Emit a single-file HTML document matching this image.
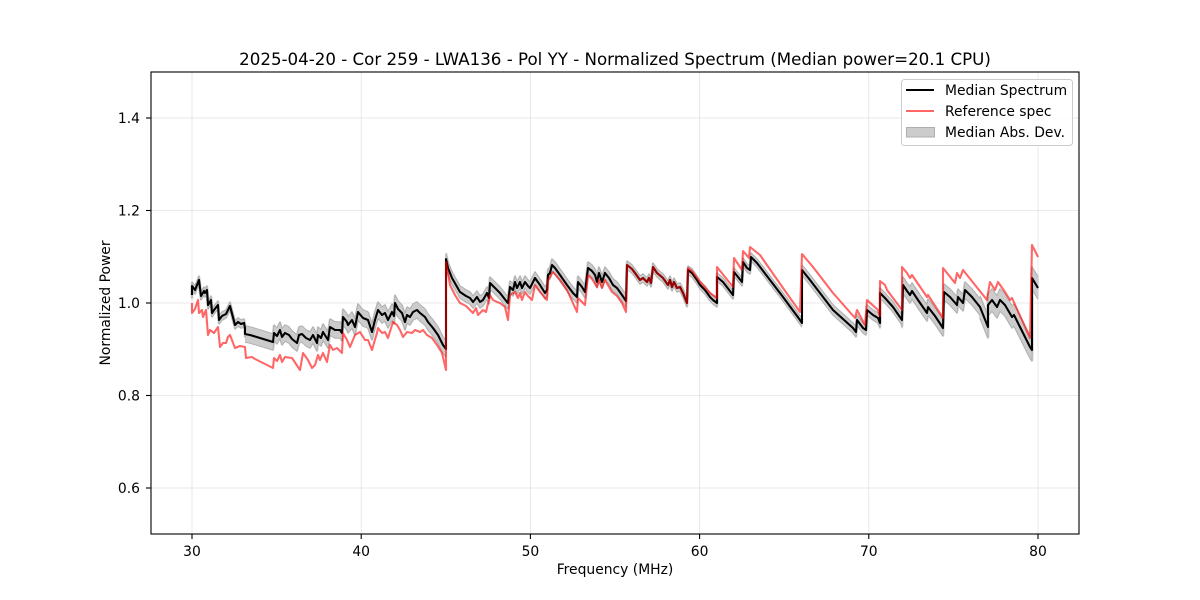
<!DOCTYPE html>
<html><head><meta charset="utf-8"><style>
html,body{margin:0;padding:0;background:#fff;}
svg{display:block;}
text{font-family:"DejaVu Sans","Liberation Sans",sans-serif;fill:#000;}
</style></head><body>
<svg width="1200" height="600" viewBox="0 0 1200 600" xmlns="http://www.w3.org/2000/svg" xmlns:xlink="http://www.w3.org/1999/xlink">
<defs>
<polyline id="g1" points="192,295 192,286 195,290 199,280 201,296 204,291 205,293 207,290 208,305 210,302 211,300 212,313 214,310 218,305 219,320 222,316 226,314 230,306 235,325 238,322 241,324 244,323 245,328 245,334"/>
<polyline id="g2" points="245,334 250,335 260,338 273,342 274,333 277,336 280,330 282,337 285,333 289,335 292,339 297,343 299,335 302,334 306,338 310,340 313,335 317,343 318,335 321,338 323,332 328,340 330,327 335,330 340,330 342,333 343,317 347,322 348,325 352,320 355,327 358,312 363,318 368,320 372,332 375,320 378,310 382,315 385,313 388,320 392,312 394,316 395,303 398,309 402,313 405,322 407,315 410,317 413,312 417,310 420,313 425,317 428,322 433,328 438,335 443,345 446,349"/>
<polyline id="g3" points="446,259 448,268 452,278 456,285 460,292 466,296 470,298 473,302 477,297 480,302 483,300 487,293 489,298 490,283 495,288 500,293 507,302 508,303 510,287 513,290 515,282 517,288 520,282 522,288 525,282 528,286 530,288 535,278 540,285 545,293 547,290 548,275 550,273 552,265 555,268 560,275 567,285 573,293 577,297 578,282 582,287 585,292 588,268 592,271 595,275 597,282 599,273 602,282 605,273 609,278 613,285 617,288 622,295 626,301"/>
<polyline id="g4" points="626,301 627,265 632,269 635,273 640,280 643,278 647,282 649,278 651,283 653,267 657,273 663,278 668,285 670,280 672,287 674,282 677,288 680,287 683,293 687,303 688,270 692,273 697,280 700,285 705,290 710,297 713,300 717,303 717,277 723,282 733,295 734,272 738,277 742,282 743,262 747,268 750,270 751,257 757,263 770,280 783,297 800,320 802,323"/>
<polyline id="g5" points="802,270 810,280 833,310 853,328 856,332 857,320 863,328 866,330 867,310 873,315 878,318 880,323 880,293 885,298 893,307 902,320"/>
<polyline id="g6" points="902,320 903,285 907,291 910,295 912,291 918,300 927,313 928,307 935,316 943,328 944,292 950,297 957,305 958,297 963,303 965,290 972,297 980,307"/>
<polyline id="g7" points="980,307 988,327 988,305 992,300 997,307 1000,300 1005,305 1012,317 1014,315 1020,327 1030,347 1032,350 1032,278 1035,283 1038,288"/>
</defs>
<rect x="0" y="0" width="1200" height="600" fill="#fff"/>
<!-- grid -->
<g stroke="#b0b0b0" stroke-opacity="0.35" stroke-width="0.8">
<line x1="192" y1="72" x2="192" y2="534"/><line x1="361.2" y1="72" x2="361.2" y2="534"/><line x1="530.4" y1="72" x2="530.4" y2="534"/><line x1="699.6" y1="72" x2="699.6" y2="534"/><line x1="868.8" y1="72" x2="868.8" y2="534"/><line x1="1038" y1="72" x2="1038" y2="534"/>
<line x1="151" y1="488" x2="1079" y2="488"/><line x1="151" y1="395.5" x2="1079" y2="395.5"/><line x1="151" y1="303" x2="1079" y2="303"/><line x1="151" y1="210.5" x2="1079" y2="210.5"/><line x1="151" y1="118" x2="1079" y2="118"/>
</g>
<!-- band fill: vertical sweep of median line -->
<g fill="none" stroke="#cccccc" stroke-width="2.6" stroke-linejoin="round">
<use href="#g1" xlink:href="#g1" transform="translate(0,-3)"/><use href="#g1" xlink:href="#g1" transform="translate(0,-1)"/><use href="#g1" xlink:href="#g1" transform="translate(0,1)"/><use href="#g1" xlink:href="#g1" transform="translate(0,3)"/>
<use href="#g2" xlink:href="#g2" transform="translate(0,-7)"/><use href="#g2" xlink:href="#g2" transform="translate(0,-5)"/><use href="#g2" xlink:href="#g2" transform="translate(0,-3)"/><use href="#g2" xlink:href="#g2" transform="translate(0,-1)"/><use href="#g2" xlink:href="#g2" transform="translate(0,1)"/><use href="#g2" xlink:href="#g2" transform="translate(0,3)"/><use href="#g2" xlink:href="#g2" transform="translate(0,5)"/><use href="#g2" xlink:href="#g2" transform="translate(0,7)"/>
<use href="#g3" xlink:href="#g3" transform="translate(0,-5)"/><use href="#g3" xlink:href="#g3" transform="translate(0,-3)"/><use href="#g3" xlink:href="#g3" transform="translate(0,-1)"/><use href="#g3" xlink:href="#g3" transform="translate(0,1)"/><use href="#g3" xlink:href="#g3" transform="translate(0,3)"/><use href="#g3" xlink:href="#g3" transform="translate(0,5)"/>
<use href="#g4" xlink:href="#g4" transform="translate(0,-3)"/><use href="#g4" xlink:href="#g4" transform="translate(0,-1)"/><use href="#g4" xlink:href="#g4" transform="translate(0,1)"/><use href="#g4" xlink:href="#g4" transform="translate(0,3)"/>
<use href="#g5" xlink:href="#g5" transform="translate(0,-4)"/><use href="#g5" xlink:href="#g5" transform="translate(0,-2)"/><use href="#g5" xlink:href="#g5" transform="translate(0,0)"/><use href="#g5" xlink:href="#g5" transform="translate(0,2)"/><use href="#g5" xlink:href="#g5" transform="translate(0,4)"/>
<use href="#g6" xlink:href="#g6" transform="translate(0,-7)"/><use href="#g6" xlink:href="#g6" transform="translate(0,-5)"/><use href="#g6" xlink:href="#g6" transform="translate(0,-3)"/><use href="#g6" xlink:href="#g6" transform="translate(0,-1)"/><use href="#g6" xlink:href="#g6" transform="translate(0,1)"/><use href="#g6" xlink:href="#g6" transform="translate(0,3)"/><use href="#g6" xlink:href="#g6" transform="translate(0,5)"/><use href="#g6" xlink:href="#g6" transform="translate(0,7)"/>
<use href="#g7" xlink:href="#g7" transform="translate(0,-10)"/><use href="#g7" xlink:href="#g7" transform="translate(0,-8)"/><use href="#g7" xlink:href="#g7" transform="translate(0,-6)"/><use href="#g7" xlink:href="#g7" transform="translate(0,-4)"/><use href="#g7" xlink:href="#g7" transform="translate(0,-2)"/><use href="#g7" xlink:href="#g7" transform="translate(0,0)"/><use href="#g7" xlink:href="#g7" transform="translate(0,2)"/><use href="#g7" xlink:href="#g7" transform="translate(0,4)"/><use href="#g7" xlink:href="#g7" transform="translate(0,6)"/><use href="#g7" xlink:href="#g7" transform="translate(0,8)"/><use href="#g7" xlink:href="#g7" transform="translate(0,10)"/>
</g>
<!-- band edges -->
<g fill="none" stroke="#b0b0b0" stroke-width="1" stroke-linejoin="round">
<use href="#g1" xlink:href="#g1" transform="translate(0,-4.3)"/><use href="#g1" xlink:href="#g1" transform="translate(0,4.3)"/>
<use href="#g2" xlink:href="#g2" transform="translate(0,-8.3)"/><use href="#g2" xlink:href="#g2" transform="translate(0,8.3)"/>
<use href="#g3" xlink:href="#g3" transform="translate(0,-6.3)"/><use href="#g3" xlink:href="#g3" transform="translate(0,6.3)"/>
<use href="#g4" xlink:href="#g4" transform="translate(0,-4.3)"/><use href="#g4" xlink:href="#g4" transform="translate(0,4.3)"/>
<use href="#g5" xlink:href="#g5" transform="translate(0,-5.3)"/><use href="#g5" xlink:href="#g5" transform="translate(0,5.3)"/>
<use href="#g6" xlink:href="#g6" transform="translate(0,-8.3)"/><use href="#g6" xlink:href="#g6" transform="translate(0,8.3)"/>
<use href="#g7" xlink:href="#g7" transform="translate(0,-11.3)"/><use href="#g7" xlink:href="#g7" transform="translate(0,11.3)"/>
</g>
<!-- median black -->
<polyline fill="none" stroke="#000" stroke-width="2.08" stroke-linejoin="round" points="192,295 192,286 195,290 199,280 201,296 204,291 205,293 207,290 208,305 210,302 211,300 212,313 214,310 218,305 219,320 222,316 226,314 230,306 235,325 238,322 241,324 244,323 245,328 245,334 250,335 260,338 273,342 274,333 277,336 280,330 282,337 285,333 289,335 292,339 297,343 299,335 302,334 306,338 310,340 313,335 317,343 318,335 321,338 323,332 328,340 330,327 335,330 340,330 342,333 343,317 347,322 348,325 352,320 355,327 358,312 363,318 368,320 372,332 375,320 378,310 382,315 385,313 388,320 392,312 394,316 395,303 398,309 402,313 405,322 407,315 410,317 413,312 417,310 420,313 425,317 428,322 433,328 438,335 443,345 446,349 446,259 448,268 452,278 456,285 460,292 466,296 470,298 473,302 477,297 480,302 483,300 487,293 489,298 490,283 495,288 500,293 507,302 508,303 510,287 513,290 515,282 517,288 520,282 522,288 525,282 528,286 530,288 535,278 540,285 545,293 547,290 548,275 550,273 552,265 555,268 560,275 567,285 573,293 577,297 578,282 582,287 585,292 588,268 592,271 595,275 597,282 599,273 602,282 605,273 609,278 613,285 617,288 622,295 626,301 627,265 632,269 635,273 640,280 643,278 647,282 649,278 651,283 653,267 657,273 663,278 668,285 670,280 672,287 674,282 677,288 680,287 683,293 687,303 688,270 692,273 697,280 700,285 705,290 710,297 713,300 717,303 717,277 723,282 733,295 734,272 738,277 742,282 743,262 747,268 750,270 751,257 757,263 770,280 783,297 800,320 802,323 802,270 810,280 833,310 853,328 856,332 857,320 863,328 866,330 867,310 873,315 878,318 880,323 880,293 885,298 893,307 902,320 903,285 907,291 910,295 912,291 918,300 927,313 928,307 935,316 943,328 944,292 950,297 957,305 958,297 963,303 965,290 972,297 980,307 988,327 988,305 992,300 997,307 1000,300 1005,305 1012,317 1014,315 1020,327 1030,347 1032,350 1032,278 1035,283 1038,288"/>
<!-- reference red -->
<polyline fill="none" stroke="#ff0000" stroke-opacity="0.6" stroke-width="2.08" stroke-linejoin="round" points="192,303 192,313 195,309 198,300 199,313 202,310 203,317 206,310 208,335 210,330 214,333 218,327 220,347 223,343 226,343 228,337 230,335 235,348 240,346 245,347 246,358 252,357 255,359 273,368 274,358 277,361 280,355 282,362 285,357 292,358 300,370 303,353 308,360 312,368 315,365 318,355 320,360 323,353 327,362 330,345 333,350 337,348 342,353 343,333 347,340 350,347 355,335 360,332 365,340 368,340 372,350 374,343 377,333 378,328 382,333 385,332 388,338 393,322 397,325 400,330 403,337 407,332 412,333 415,330 420,332 423,330 427,335 432,338 437,345 442,353 446,370 446,262 450,285 455,295 460,303 466,306 470,310 473,313 476,308 478,315 483,310 486,312 490,295 493,300 497,302 500,303 505,307 508,320 510,295 515,292 518,298 520,293 522,300 525,292 528,296 532,300 535,285 540,292 547,300 548,280 553,272 560,280 567,290 577,312 578,298 582,302 585,305 588,275 592,279 597,287 599,280 602,288 605,280 612,292 617,296 622,303 626,312 627,265 632,269 635,273 640,280 643,278 647,282 649,278 651,283 653,267 657,273 663,278 668,285 670,280 672,287 674,282 677,288 680,287 683,293 687,303 688,268 692,271 700,282 710,293 717,298 717,267 733,287 734,258 742,270 743,251 749,258 750,247 760,255 783,288 800,312 802,254 813,267 833,293 855,318 857,310 865,325 867,300 878,310 880,316 880,281 885,285 887,290 902,310 902,267 907,273 910,278 912,275 927,297 928,295 943,318 943,268 955,283 957,273 960,278 963,270 975,285 987,300 988,293 990,282 995,290 998,282 1005,292 1010,300 1012,298 1030,338 1032,245 1038,257"/>
<!-- axes frame -->
<rect x="151" y="72" width="928" height="462" fill="none" stroke="#000" stroke-width="1.1"/>
<!-- ticks -->
<g stroke="#000" stroke-width="1.1">
<line x1="192" y1="534" x2="192" y2="539"/><line x1="361.2" y1="534" x2="361.2" y2="539"/><line x1="530.4" y1="534" x2="530.4" y2="539"/><line x1="699.6" y1="534" x2="699.6" y2="539"/><line x1="868.8" y1="534" x2="868.8" y2="539"/><line x1="1038" y1="534" x2="1038" y2="539"/>
<line x1="146" y1="488" x2="151" y2="488"/><line x1="146" y1="395.5" x2="151" y2="395.5"/><line x1="146" y1="303" x2="151" y2="303"/><line x1="146" y1="210.5" x2="151" y2="210.5"/><line x1="146" y1="118" x2="151" y2="118"/>
</g>
<g font-size="13.89" text-anchor="middle">
<text x="192" y="556">30</text><text x="361.2" y="556">40</text><text x="530.4" y="556">50</text><text x="699.6" y="556">60</text><text x="868.8" y="556">70</text><text x="1038" y="556">80</text>
</g>
<g font-size="13.89" text-anchor="end">
<text x="140" y="493">0.6</text><text x="140" y="400.5">0.8</text><text x="140" y="308">1.0</text><text x="140" y="215.5">1.2</text><text x="140" y="123">1.4</text>
</g>
<text x="615" y="574" font-size="13.89" text-anchor="middle">Frequency (MHz)</text>
<text x="0" y="0" font-size="13.89" text-anchor="middle" transform="translate(110,303) rotate(-90)">Normalized Power</text>
<text x="615" y="65" font-size="16.67" text-anchor="middle">2025-04-20 - Cor 259 - LWA136 - Pol YY - Normalized Spectrum (Median power=20.1 CPU)</text>
<!-- legend -->
<rect x="901.5" y="79.5" width="171" height="66" rx="3" ry="3" fill="#fff" fill-opacity="0.8" stroke="#cccccc" stroke-width="1"/>
<line x1="906" y1="90" x2="934" y2="90" stroke="#000" stroke-width="2.08"/>
<line x1="906" y1="111" x2="934" y2="111" stroke="#ff0000" stroke-opacity="0.6" stroke-width="2.08"/>
<rect x="906.5" y="127.5" width="28" height="9.5" fill="#cccccc" stroke="#aeaeae" stroke-width="1"/>
<g font-size="13.89">
<text x="945" y="95">Median Spectrum</text>
<text x="945" y="116">Reference spec</text>
<text x="945" y="137">Median Abs. Dev.</text>
</g>
</svg>
</body></html>
